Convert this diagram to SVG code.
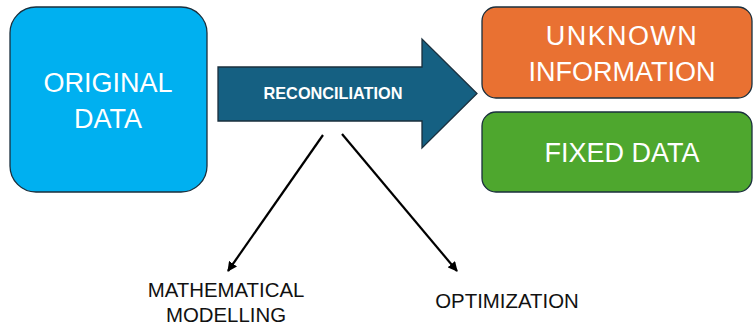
<svg xmlns="http://www.w3.org/2000/svg" width="753" height="328" viewBox="0 0 753 328">
<defs>
<style>
.box{stroke:#1a2f3d;stroke-width:1.3}
.big{font-family:"Liberation Sans",Arial,sans-serif;font-size:27px;fill:#fff;text-anchor:middle}
.bold{font-family:"Liberation Sans",Arial,sans-serif;font-size:16.3px;font-weight:bold;fill:#fff;text-anchor:middle}
.lbl{font-family:"Liberation Sans",Arial,sans-serif;font-size:20.4px;fill:#111;text-anchor:middle}
.con{stroke:#000;stroke-width:2.2;fill:none;marker-end:url(#ah)}
</style>
<marker id="ah" viewBox="0 0 10 10" refX="9" refY="5" markerWidth="4.5" markerHeight="4.5" orient="auto" markerUnits="strokeWidth">
<path d="M0,0 L10,5 L0,10 Z" fill="#000"/>
</marker>
</defs>
<rect width="753" height="328" fill="#fff"/>
<g id="original">
<rect class="box" x="10" y="7" width="197" height="185" rx="26" fill="#00B0F0"/>
<text class="big" x="108" y="92">ORIGINAL</text>
<text class="big" x="108" y="128">DATA</text>
</g>
<g id="reconciliation">
<path class="box" d="M218,67 L422,67 L422,39 L477,93.5 L422,148 L422,121 L218,121 Z" fill="#156082"/>
<text class="bold" x="333" y="99">RECONCILIATION</text>
</g>
<g id="unknown">
<rect class="box" x="482" y="7" width="270" height="91" rx="14" fill="#E97132"/>
<text class="big" x="622" y="45" letter-spacing="1.4">UNKNOWN</text>
<text class="big" x="622" y="81">INFORMATION</text>
</g>
<g id="fixed">
<rect class="box" x="482" y="112" width="270" height="80" rx="14" fill="#4EA72E"/>
<text class="big" x="622" y="162">FIXED DATA</text>
</g>
<g id="connectors">
<line class="con" x1="323" y1="135" x2="228" y2="271"/>
<line class="con" x1="342" y1="134" x2="457" y2="271"/>
</g>
<g id="math">
<text class="lbl" x="226" y="297">MATHEMATICAL</text>
<text class="lbl" x="226" y="322">MODELLING</text>
</g>
<g id="optimization">
<text class="lbl" x="507" y="308">OPTIMIZATION</text>
</g>
</svg>
